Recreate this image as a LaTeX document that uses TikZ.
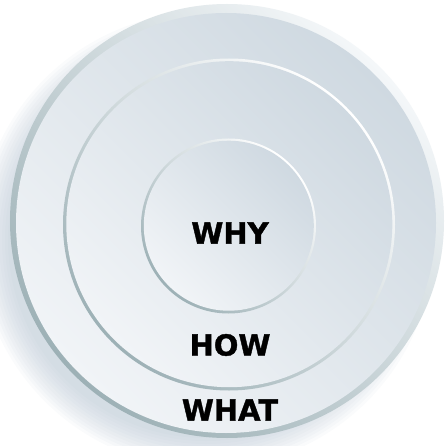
\documentclass[tikz,border=0pt]{standalone}
\usepackage{fontspec}
\newfontfamily\labelfont{DejaVu Sans}[BoldFont={DejaVu Sans Bold}, BoldFeatures={FakeBold=1.3}]
\definecolor{faceDark}{HTML}{CFD9E1}
\definecolor{faceLight}{HTML}{F1F4F7}
\definecolor{ringDark}{HTML}{9DB1B6}
\definecolor{ringLight}{HTML}{F4F7F9}
\definecolor{edgeLight}{HTML}{FFFFFF}
\definecolor{shadowCol}{HTML}{B9C7D6}
\tikzset{
  face/.style={top color=faceDark, bottom color=faceLight, shading angle=-45, draw=none},
  ring/.style={top color=ringLight, bottom color=ringDark, shading angle=-45, draw=none},
  edge/.style={top color=edgeLight, bottom color=ringDark, shading angle=-45, draw=none},
  word/.style={font=\labelfont\bfseries\fontsize{29}{29}\selectfont, text=black, inner sep=0pt}
}
\begin{document}
\begin{tikzpicture}[x=1pt,y=-1pt]
\useasboundingbox (0,0) rectangle (445,446);
\fill[white] (0,0) rectangle (445,446);
% soft shadow toward lower left
\foreach \r in {198,201,...,228}{
  \fill[shadowCol, opacity=0.07] (206,240) circle (\r pt);
}
% outer circle
\shade[ring] (227,221) circle (217pt);
\shade[face] (226,223) circle (210pt);
% middle circle
\shade[edge] (229,224.5) circle (166pt);
\shade[face] (229.3,224.2) circle (163pt);
% inner circle
\shade[edge] (228.5,226) circle (87.5pt);
\shade[face] (228.8,225.7) circle (85pt);
% labels
\node[word] (why) at (230,233) {WHY};
\node[word] (how) at (230,345) {HOW};
\node[word] (what) at (230,410) {WHAT};
\end{tikzpicture}
\end{document}
